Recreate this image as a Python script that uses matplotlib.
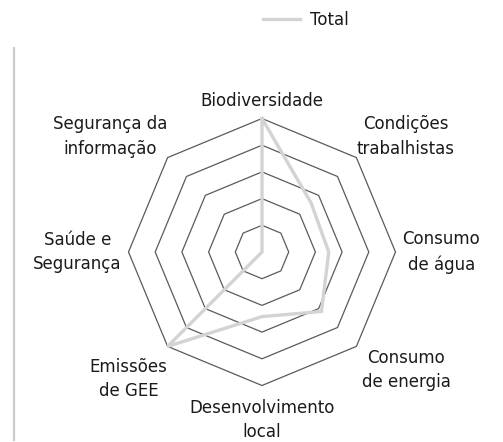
import numpy as np
import matplotlib
matplotlib.use("Agg")
import matplotlib.pyplot as plt
from matplotlib.lines import Line2D

categories = ["Biodiversidade", "Condições\ntrabalhistas", "Consumo\nde água",
              "Consumo\nde energia", "Desenvolvimento\nlocal", "Emissões\nde GEE",
              "Saúde e\nSegurança", "Segurança da\ninformação"]
series_name = "Total"
values = [5.0, 2.6, 2.5, 3.15, 2.42, 5.0, 0.0, 0.0]
grid_levels = [1, 2, 3, 4, 5]

plt.rcParams['font.family'] = ['DejaVu Sans']
W, H = 503, 442
fig = plt.figure(figsize=(W / 100, H / 100), dpi=100)

cx, cy, R = 262, 252, 133.5
ax = fig.add_axes([(cx - R) / W, (H - cy - R) / H, 2 * R / W, 2 * R / H], projection='polar')
ax.set_theta_zero_location('N')
ax.set_theta_direction(-1)
ax.set_ylim(0, 5)
ax.grid(False)
ax.spines['polar'].set_visible(False)
ax.set_xticks([])
ax.set_yticks([])
ax.patch.set_alpha(0)

n = len(categories)
angles = np.linspace(0, 2 * np.pi, n, endpoint=False)
closed = np.concatenate([angles, angles[:1]])

for lv in grid_levels:
    ax.plot(closed, [lv] * (n + 1), color='#5a5a5a', lw=0.9, zorder=1, clip_on=False)

vals = np.array(values + values[:1])
ax.plot(closed, vals, color='#d3d3d3', lw=2.4, zorder=3, clip_on=False,
        solid_joinstyle='miter', label=series_name)

fs = 12
# labels placement
offsets = [(0, 6, 'center', 'bottom'),
           (0, 0, 'left', 'bottom'),
           (5, 0, 'left', 'center'),
           (4, -2, 'left', 'top'),
           (0, -9.5, 'center', 'top'),
           (0, -8, 'right', 'top'),
           (-5, 0, 'right', 'center'),
           (0, 0, 'right', 'bottom')]
for ang, lab, (dx, dy, ha, va) in zip(angles, categories, offsets):
    ax.annotate(lab, xy=(ang, 5), xytext=(dx, dy), textcoords='offset points',
                ha=ha, va=va, multialignment='center', fontsize=fs,
                color='#1a1a1a', linespacing=1.45, annotation_clip=False)

leg = fig.legend(handles=[Line2D([], [], color='#d3d3d3', lw=2.4)], labels=[series_name],
                 loc='center', bbox_to_anchor=(306 / W, 1 - 20 / H), frameon=False,
                 fontsize=fs, handlelength=2.2, handletextpad=0.6)
for t in leg.get_texts():
    t.set_color('#1a1a1a')

fig.add_artist(Line2D([14 / W, 14 / W], [1 - 48 / H, 1 - 440 / H], color='#cccccc', lw=1.6,
                      transform=fig.transFigure))

fig.savefig('out.png', dpi=100)
